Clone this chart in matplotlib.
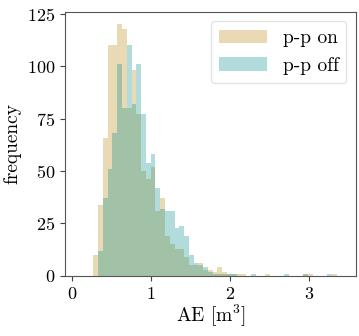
"""Histogram of AE with and without p-p"""

import numpy as np
import matplotlib
matplotlib.use('Agg')
import matplotlib.pyplot as plt

plt.rcParams['font.family'] = 'serif'
plt.rcParams['font.serif'] = ['cmr10']
plt.rcParams['mathtext.fontset'] = 'cm'
plt.rcParams['axes.formatter.use_mathtext'] = True

# Shared bin edges (m^3)
bin_start = 0.27
bin_width = 0.0605
n_bins = 52

# Counts per bin
counts_on = [10, 34, 66, 110, 110, 120, 118, 80, 98, 77,
             50, 46, 52, 31, 37, 19, 15, 13, 13, 9,
             5, 5, 6, 3, 3, 2, 4, 2, 1, 1,
             1, 1, 0, 0, 0, 0, 1, 0, 0, 0,
             0, 0, 0, 0, 1, 1, 0, 0, 0, 0,
             1, 0]
counts_off = [0, 12, 37, 51, 68, 101, 80, 110, 82, 101,
              77, 54, 58, 42, 32, 31, 31, 23, 24, 19,
              10, 6, 5, 4, 2, 1, 1, 1, 1, 1,
              0, 0, 0, 1, 0, 0, 0, 0, 0, 0,
              1, 0, 0, 0, 1, 0, 0, 0, 0, 1,
              0, 0]

edges = bin_start + bin_width * np.arange(n_bins + 1)
centers = (edges[:-1] + edges[1:]) / 2

fig, ax = plt.subplots(figsize=(3.59, 3.36), dpi=100)

ax.hist(centers, bins=edges, weights=counts_on, color='darkgoldenrod',
        alpha=0.3, label='p-p on')
ax.hist(centers, bins=edges, weights=counts_off, color='darkcyan',
        alpha=0.3, label='p-p off')

ax.set_xlim(-0.09, 3.6)
ax.set_ylim(0, 126)
ax.set_xticks([0, 1, 2, 3])
ax.set_yticks([0, 25, 50, 75, 100, 125])
ax.set_xlabel('AE [m$^3$]', fontsize=14, labelpad=1)
ax.set_ylabel('frequency', fontsize=14)
ax.tick_params(labelsize=13, color='#444444')
for s in ax.spines.values():
    s.set_color('#555555')

ax.legend(loc='upper right', fontsize=14, frameon=True, edgecolor='#dddddd',
          fancybox=True, handlelength=2.5)

fig.subplots_adjust(left=0.181, right=0.992, bottom=0.179, top=0.965)
fig.savefig('out.png')
